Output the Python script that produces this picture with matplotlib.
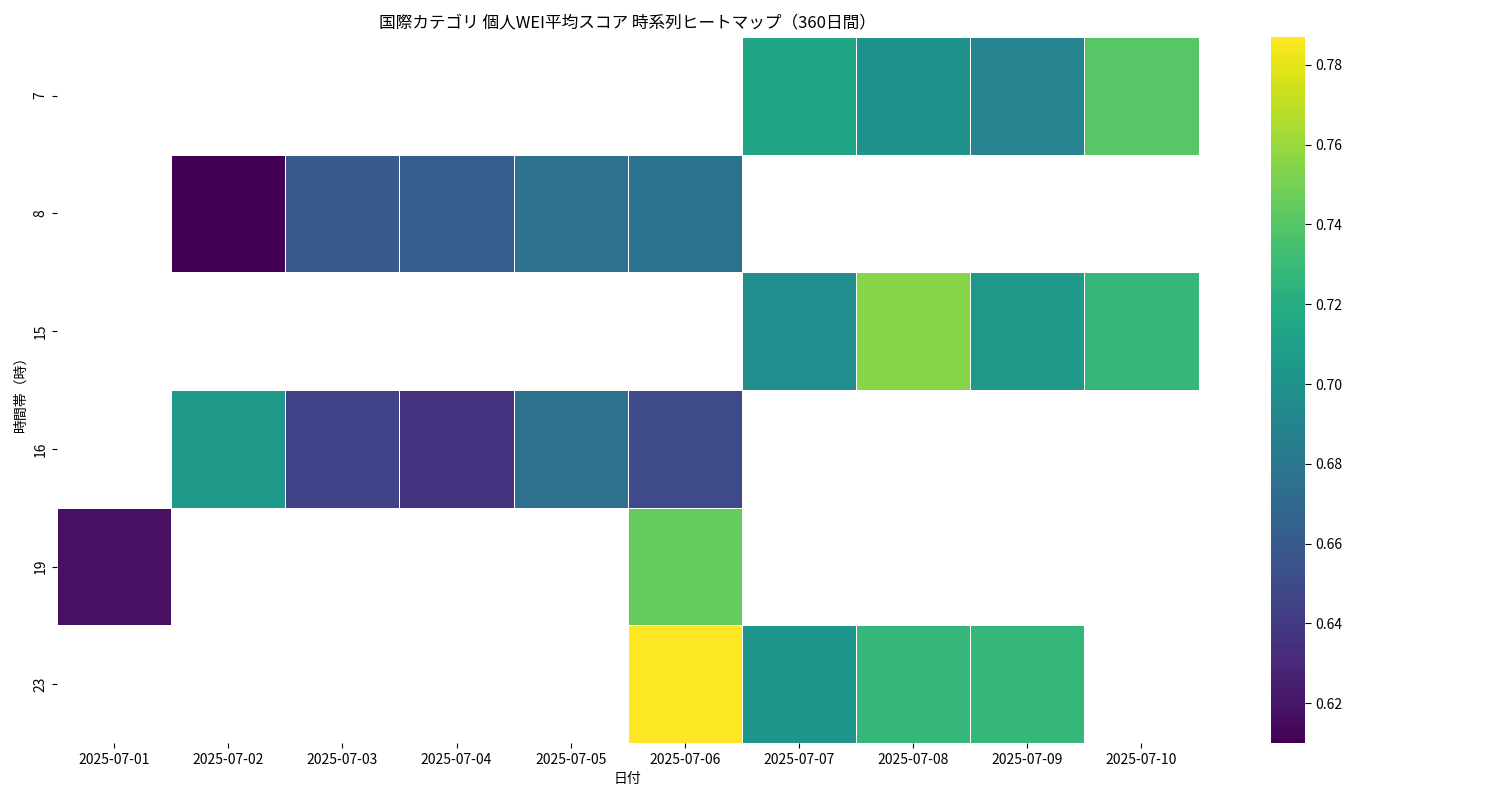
import numpy as np
import pandas as pd
import matplotlib
matplotlib.use("Agg")
import matplotlib.pyplot as plt
import seaborn as sns

plt.rcParams["font.family"] = "Noto Sans CJK JP"

# -----------------------
# Data
# -----------------------
dates = ["2025-07-01", "2025-07-02", "2025-07-03", "2025-07-04", "2025-07-05",
         "2025-07-06", "2025-07-07", "2025-07-08", "2025-07-09", "2025-07-10"]
hours = [7, 8, 15, 16, 19, 23]
nan = np.nan
h7 = [nan, nan, nan, nan, nan, nan, 0.715, 0.700, 0.690, 0.740]
h8 = [nan, 0.610, 0.660, 0.662, 0.675, 0.677, nan, nan, nan, nan]
h15 = [nan, nan, nan, nan, nan, nan, 0.697, 0.755, 0.705, 0.728]
h16 = [nan, 0.705, 0.645, 0.636, 0.675, 0.650, nan, nan, nan, nan]
h19 = [0.617, nan, nan, nan, nan, 0.745, nan, nan, nan, nan]
h23 = [nan, nan, nan, nan, nan, 0.787, 0.703, 0.728, 0.728, nan]

df = pd.DataFrame([h7, h8, h15, h16, h19, h23], index=hours, columns=dates)

# -----------------------
# Plot
# -----------------------
fig = plt.figure(figsize=(15, 8), dpi=100)
ax = fig.add_axes([0.038, 0.071, 0.761, 0.883])
cax = fig.add_axes([0.847, 0.071, 0.023, 0.883])

sns.heatmap(df, ax=ax, cbar_ax=cax, cmap="viridis",
            linewidths=0.5, linecolor="white")

ax.set_title("国際カテゴリ 個人WEI平均スコア 時系列ヒートマップ（360日間）", fontsize=12)
ax.set_xlabel("日付")
ax.set_ylabel("時間帯（時）")
ax.tick_params(axis="x", rotation=0)
ax.tick_params(axis="y", rotation=90)
cax.tick_params(length=4)

fig.savefig("out.png")
